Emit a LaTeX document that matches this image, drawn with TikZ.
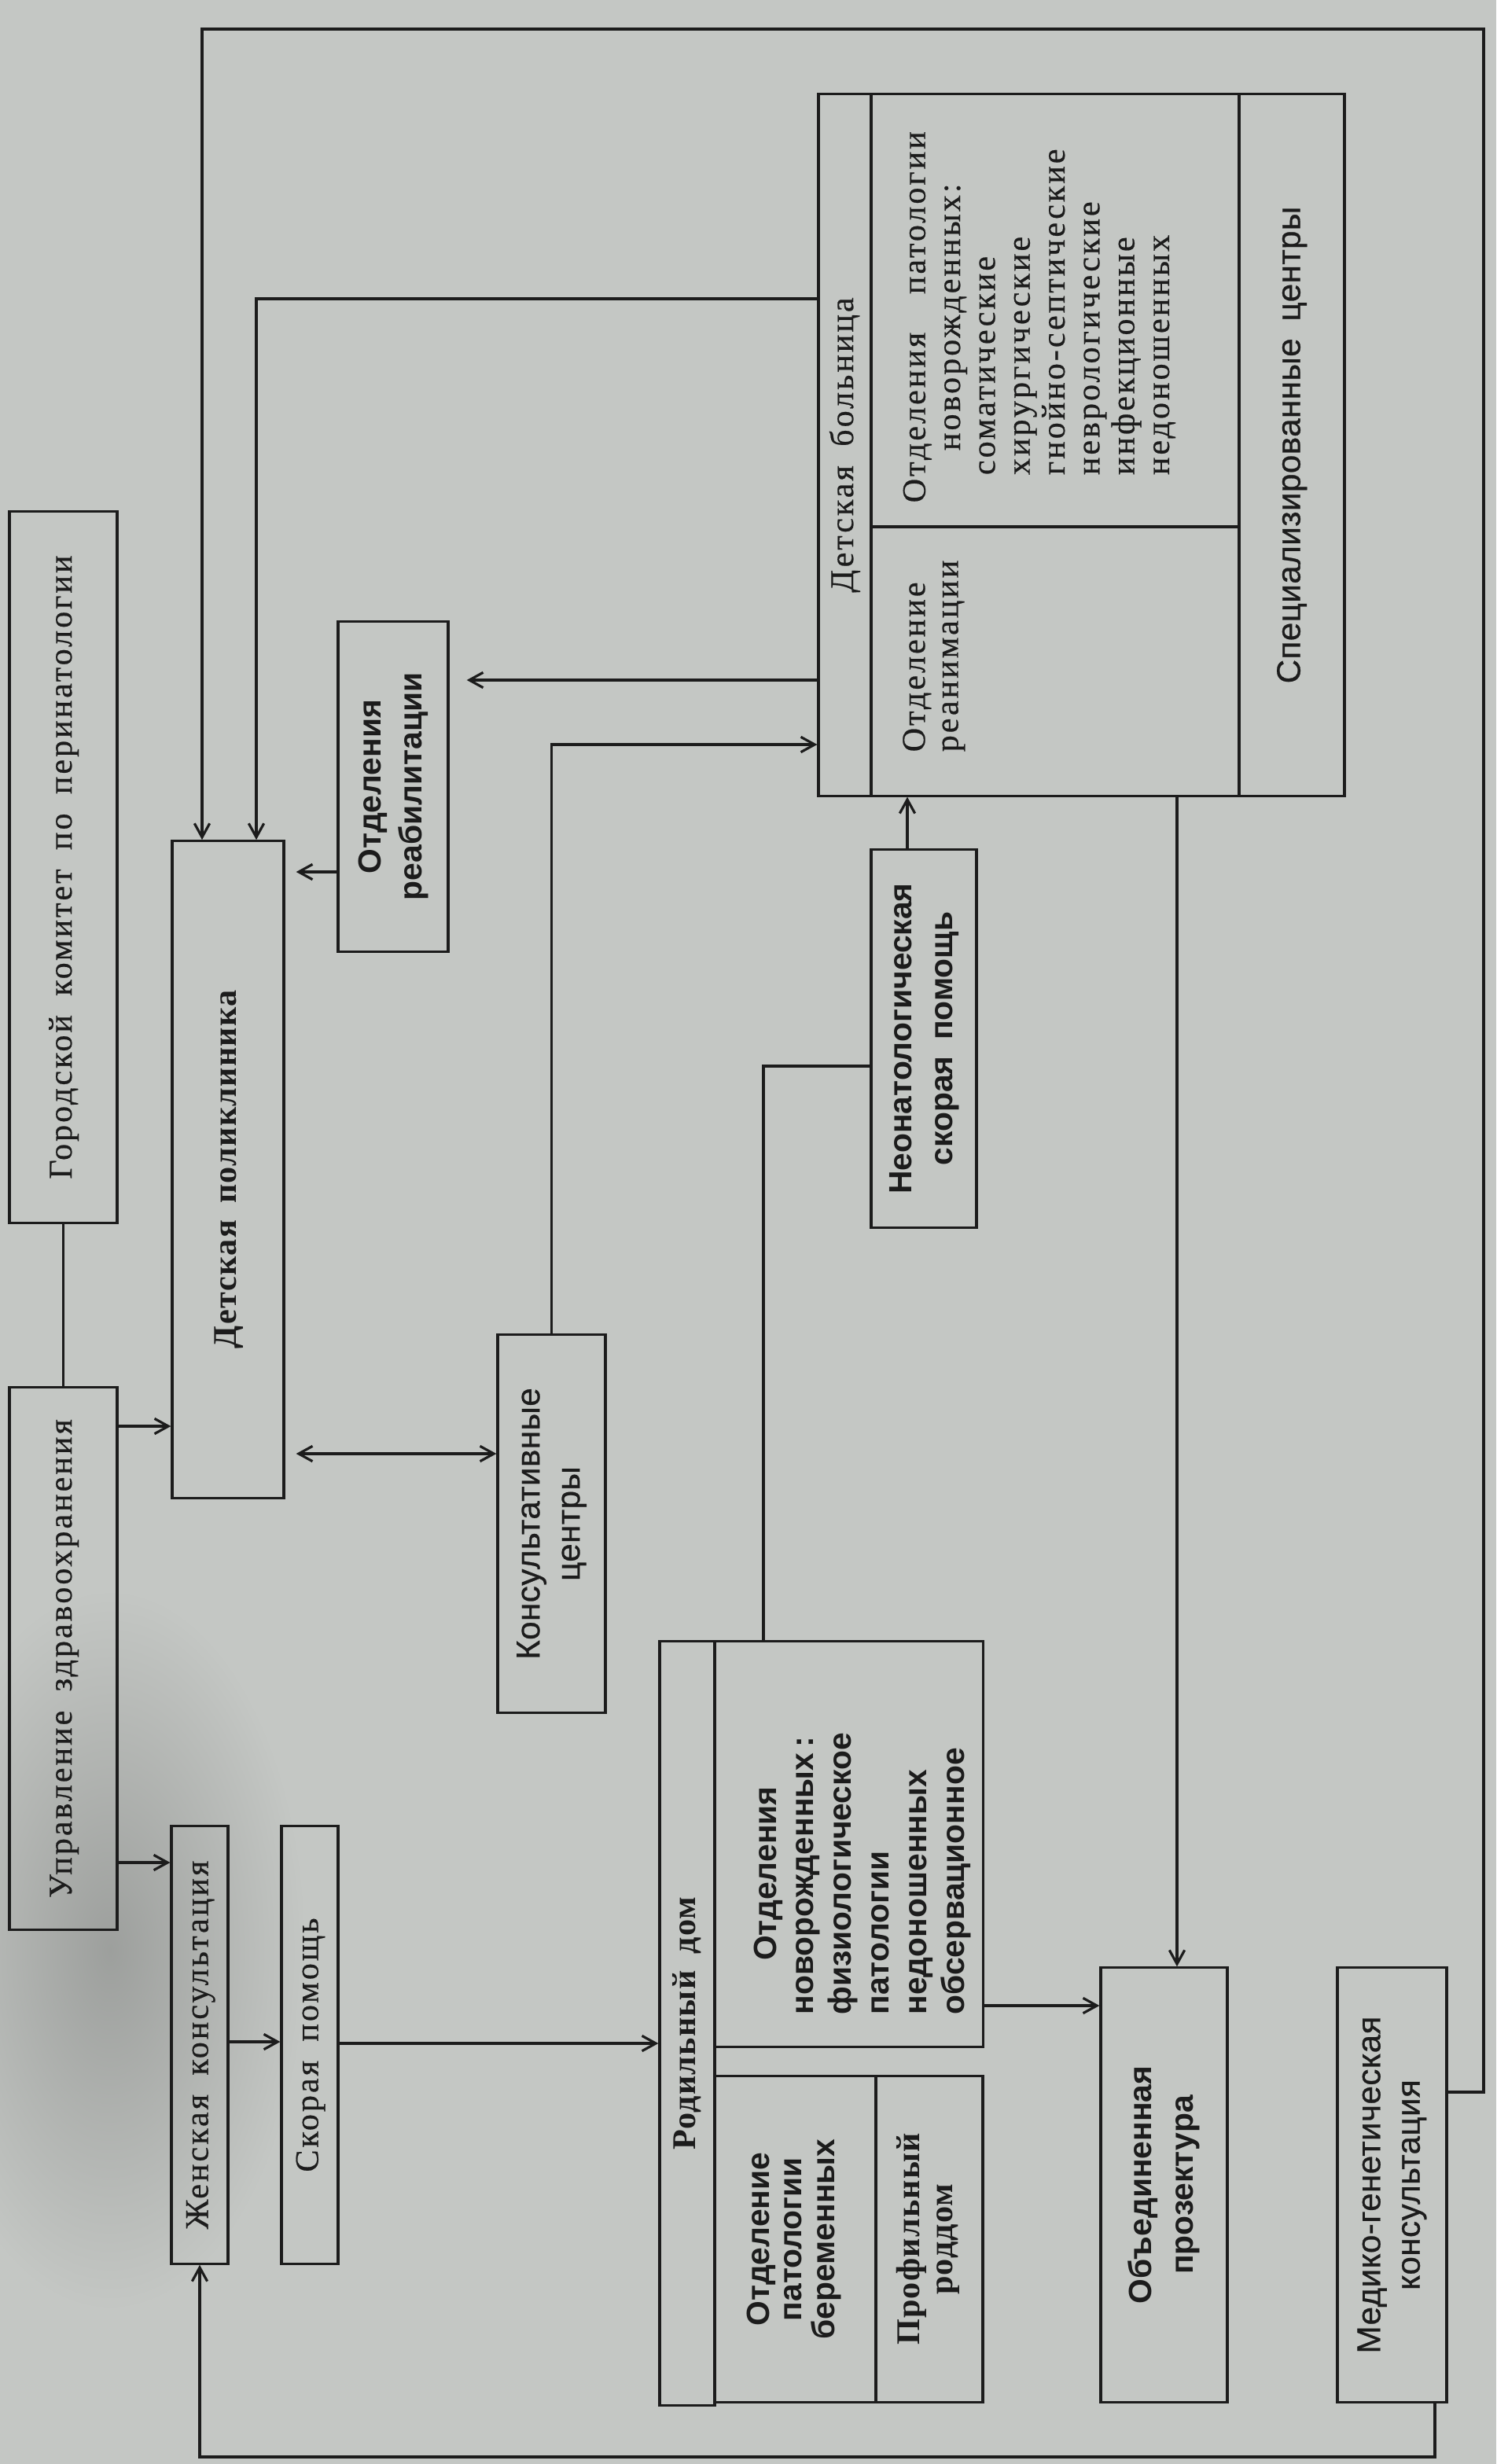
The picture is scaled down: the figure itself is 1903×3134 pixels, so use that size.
\documentclass[tikz,border=0pt]{standalone}
\usepackage{graphicx}
\usepackage{fontspec}
\setmainfont{Liberation Serif}[LetterSpace=7,WordSpace=1.8,FakeBold=0.5]
\newfontfamily\bserif{Liberation Serif}[LetterSpace=3,WordSpace=1.8]
\newfontfamily\nsans{Liberation Sans}[LetterSpace=1,WordSpace=1.8,FakeBold=0.6]
\newfontfamily\hsans{Liberation Sans}[LetterSpace=0,WordSpace=1.8]
\newcommand\hv[1]{\hsans\bfseries\fontsize{11.6}{#1}\selectfont}
\usetikzlibrary{arrows.meta}
\definecolor{paper}{RGB}{196,199,196}
\definecolor{ink}{RGB}{28,28,28}
\newcommand\rtxt[3][15]{\rotatebox{90}{\fontsize{12}{#1}\selectfont#2\begin{tabular}{@{}c@{}}#3\end{tabular}}}
\tikzset{
  box/.style={draw=ink, line width=0.9pt, inner sep=0pt, text=ink},
  lbl/.style={inner sep=0pt, text=ink},
  con/.style={draw=ink, line width=0.9pt},
  arr/.style={con, -{Straight Barb[length=5pt,width=5.5pt]}},
  darr/.style={con, {Straight Barb[length=5pt,width=5.5pt]}-{Straight Barb[length=5pt,width=5.5pt]}}
}
\begin{document}
\begin{tikzpicture}[x=0.01cm,y=-0.01cm]
\useasboundingbox (0,0) rectangle (1903,3134);
\fill[paper] (0,0) rectangle (1903,3134);
\shade[inner color=paper!80!black, outer color=paper] (140,2480) ellipse (250 and 460);
% --- boxes ---
\node[box,minimum width=1.37cm,minimum height=9.04cm] (gor) at (80.5,1103) {\rtxt{}{Городской комитет по перинатологии}};
\node[box,minimum width=1.37cm,minimum height=6.89cm] (upr) at (80.5,2109.5) {\rtxt{}{Управление здравоохранения}};
\node[box,minimum width=1.42cm,minimum height=8.35cm] (dpol) at (290,1487.5) {\rtxt{\bserif\bfseries}{Детская поликлиника}};
\node[box,minimum width=1.40cm,minimum height=4.19cm] (reab) at (500,1000.5) {\rtxt{\hv{15}}{Отделения\\реабилитации}};
\node[box,minimum width=1.37cm,minimum height=4.80cm] (kons) at (701.5,1938) {\rtxt[14.5]{\nsans}{Консультативные\\центры}};
\node[box,minimum width=0.72cm,minimum height=5.56cm] (zhk) at (254,2601) {\rtxt{}{Женская консультация}};
\node[box,minimum width=0.72cm,minimum height=5.56cm] (skor) at (394,2601) {\rtxt{}{Скорая помощь}};
\node[box,minimum width=1.34cm,minimum height=4.80cm] (neo) at (1175,1321) {\rtxt{\hv{15}}{Неонатологическая\\скорая помощь}};
% Детская больница
\node[box,minimum width=0.67cm,minimum height=8.92cm] (dbt) at (1074.5,566) {\rtxt{}{Детская больница}};
\node[box,minimum width=4.68cm,minimum height=5.50cm] (dbp) at (1342,395) {};
\node[box,minimum width=4.68cm,minimum height=3.42cm] (dbr) at (1342,841) {};
\node[box,minimum width=1.34cm,minimum height=8.92cm] (dbs) at (1643,566) {\rtxt{\nsans}{Специализированные центры}};
\node[lbl,anchor=south west] (dbpt) at (1145,640) {\rotatebox{90}{\fontsize{12}{12.6}\selectfont\begin{tabular}{@{}l@{}}Отделения\ \ патологии\\\multicolumn{1}{@{}c@{}}{новорожденных:}\\\hspace*{10pt}соматические\\\hspace*{10pt}хирургические\\\hspace*{10pt}гнойно-септические\\\hspace*{10pt}неврологические\\\hspace*{10pt}инфекционные\\\hspace*{10pt}недоношенных\end{tabular}}};
\node[lbl,anchor=south west] (dbrt) at (1146,957) {\rotatebox{90}{\fontsize{12}{12}\selectfont\begin{tabular}{@{}l@{}}Отделение\\реанимации\end{tabular}}};
% Родильный дом
\node[box,minimum width=0.70cm,minimum height=9.71cm] (rdt) at (874,2573.5) {\rtxt{\bserif\bfseries}{Родильный дом}};
\node[box,minimum width=3.41cm,minimum height=5.15cm] (rdn) at (1079.5,2345.5) {};
\node[box,minimum width=2.05cm,minimum height=4.14cm] (rdb) at (1011.5,2848) {\rtxt{\hv{11.7}}{Отделение\\патологии\\беременных}};
\node[box,minimum width=1.36cm,minimum height=4.14cm] (rdp) at (1182,2848) {\rtxt[12]{\bserif\bfseries}{Профильный\\роддом}};
\node[lbl,anchor=south] (rdnt) at (1097,2563) {\rotatebox{90}{\hv{13.6}\begin{tabular}{@{}l@{}}\multicolumn{1}{@{}c@{}}{Отделения}\\новорожденных\,:\\физиологическое\\патологии\\недоношенных\\обсервационное\end{tabular}}};
\node[box,minimum width=1.61cm,minimum height=5.52cm] (proz) at (1480.5,2779) {\rtxt{\hv{15}}{Объединенная\\прозектура}};
\node[box,minimum width=1.39cm,minimum height=5.52cm] (med) at (1770.5,2779) {\rtxt[14.3]{\nsans}{Медико-генетическая\\консультация}};
% --- corners ---
\coordinate (ftr) at (1887,37);
\coordinate (fbl) at (254,3125);
% --- connectors ---
\draw[con] (gor) -- (upr);
\draw[arr] (upr.east |- 0,1814) -- (dpol.west |- 0,1814);
\draw[arr] (upr.east |- 0,2369) -- (zhk.west |- 0,2369);
\draw[arr] (zhk.east |- 0,2597) -- (skor.west |- 0,2597);
\draw[arr] (skor.east |- 0,2599) -- (rdt.west |- 0,2599);
\draw[darr,shorten <=0.14cm] (dpol.east |- 0,1849) -- (kons.west |- 0,1849);
\draw[arr,shorten >=0.14cm] (reab.west |- 0,1109) -- (dpol.east |- 0,1109);
\draw[arr,shorten >=0.22cm] (dbt.west |- 0,865) -- (reab.east |- 0,865);
\draw[arr] (kons.north) |- (dbt.west |- 0,947);
\draw[arr] (neo.north -| 1154,0) -- (dbr.south -| 1154,0);
\draw[con] (neo.west |- 0,1356) -| (rdn.north -| 971,0);
\draw[arr] (rdn.east |- 0,2551) -- (proz.west |- 0,2551);
\draw[arr] (dbr.south -| 1497,0) -- (proz.north -| 1497,0);
\draw[arr] (med.east |- 0,2661) -| (ftr) -| (dpol.north -| 257,0);
\draw[arr] (dbt.west |- 0,380) -| (dpol.north -| 326,0);
\draw[arr] (med.south -| 1825,0) |- (fbl) -- (zhk.south);
\end{tikzpicture}
\end{document}
